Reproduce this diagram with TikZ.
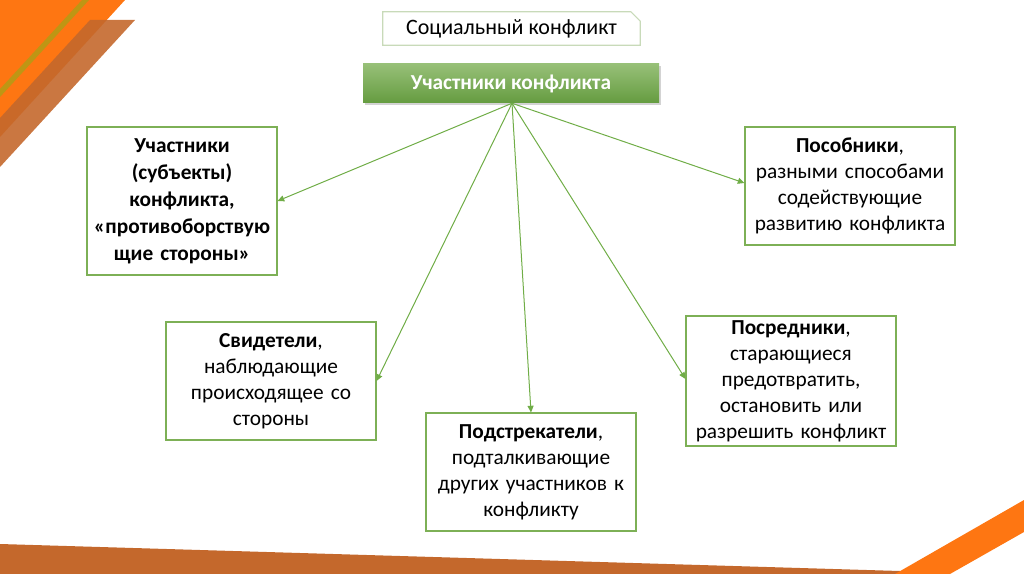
\documentclass[tikz,border=0pt]{standalone}
\usepackage{fontspec}
\setmainfont{Carlito}
\usepackage{xcolor}
\usetikzlibrary{arrows.meta, positioning, calc, shadows}
\definecolor{boxgreen}{RGB}{125, 176, 86}
\definecolor{arrgreen}{RGB}{112, 173, 71}
\definecolor{titleline}{RGB}{200, 218, 185}
\definecolor{decorange}{RGB}{254, 118, 18}
\definecolor{decbrown}{RGB}{196, 104, 44}
\definecolor{decolive}{RGB}{190, 150, 20}

\tikzset{
    rolebox/.style={draw=boxgreen, line width=0.8pt, fill=white, align=center,
        text width=150pt, minimum width=157.5pt, minimum height=88.5pt,
        inner sep=2pt, font=\fontsize{16}{19.5}\selectfont},
    link/.style={draw=arrgreen, line width=0.75pt, -{Triangle[length=5pt, width=4.5pt]}}
}

\begin{document}
\begin{tikzpicture}[x=0.75pt, y=-0.75pt]
        \useasboundingbox (0,0) rectangle (1024,574);
        % decorations
        \fill[decorange] (0,0) -- (125,0) -- (0,137) -- cycle;
        \fill[decolive] (82,0) -- (89,0) -- (0,97) -- (0,89) -- cycle;
        \fill[decbrown, opacity=0.9] (90,20) -- (135,20) -- (0,167) -- (0,118) -- cycle;
        \fill[decbrown] (0,544) -- (900,571) -- (900,574) -- (0,574) -- cycle;
        \fill[decorange] (895,574) -- (1024,500) -- (1024,532) -- (950,574) -- cycle;

        % title
        \node[minimum width=192.75pt, minimum height=24.75pt, inner sep=0pt,
            font=\fontsize{16.5}{20}\selectfont] (title) at (511.5,28.5) {Социальный конфликт};
        \draw[titleline, line width=0.8pt] (title.south west) -- (title.north west)
            -- ([xshift=-7pt]title.north east) -- ([yshift=-7pt]title.north east)
            -- (title.south east) -- cycle;

        % main node
        \node[minimum width=222pt, minimum height=29.25pt, inner sep=0pt,
            top color=boxgreen!80!white, bottom color=arrgreen!90!black,
            drop shadow={shadow xshift=1.5pt, shadow yshift=-1.5pt, opacity=0.35},
            text=white, font=\bfseries\fontsize{16}{20}\selectfont] (main) at (511,83.5) {Участники конфликта};
        \coordinate (hub) at ($(main.south)+(1,0)$);

        % roles
        \node[rolebox, text width=135pt, minimum width=142.5pt, minimum height=111pt,
            font=\bfseries\fontsize{16}{20.25}\selectfont] (subj) at (182,201)
            {Участники\\(субъекты)\\конфликта,\\«противоборствую\\щие стороны»};
        \node[rolebox] (aid) at (850,186)
            {\textbf{Пособники},\\разными способами\\содействующие\\развитию конфликта};
        \node[rolebox] (wit) at (271,381)
            {\textbf{Свидетели},\\наблюдающие\\происходящее со\\стороны};
        \node[rolebox] (inst) at (531,472)
            {\textbf{Подстрекатели},\\подталкивающие\\других участников к\\конфликту};
        \node[rolebox, minimum height=97.5pt] (med) at (791,381)
            {\textbf{Посредники},\\старающиеся\\предотвратить,\\остановить или\\разрешить конфликт};

        % links
        \draw[link] (hub) -- (subj.east);
        \draw[link] (hub) -- ($(aid.west)+(0,-3)$);
        \draw[link] (hub) -- (wit.east);
        \draw[link] (hub) -- (inst.north);
        \draw[link] (hub) -- ($(med.west)+(0,-2)$);
\end{tikzpicture}
\end{document}
